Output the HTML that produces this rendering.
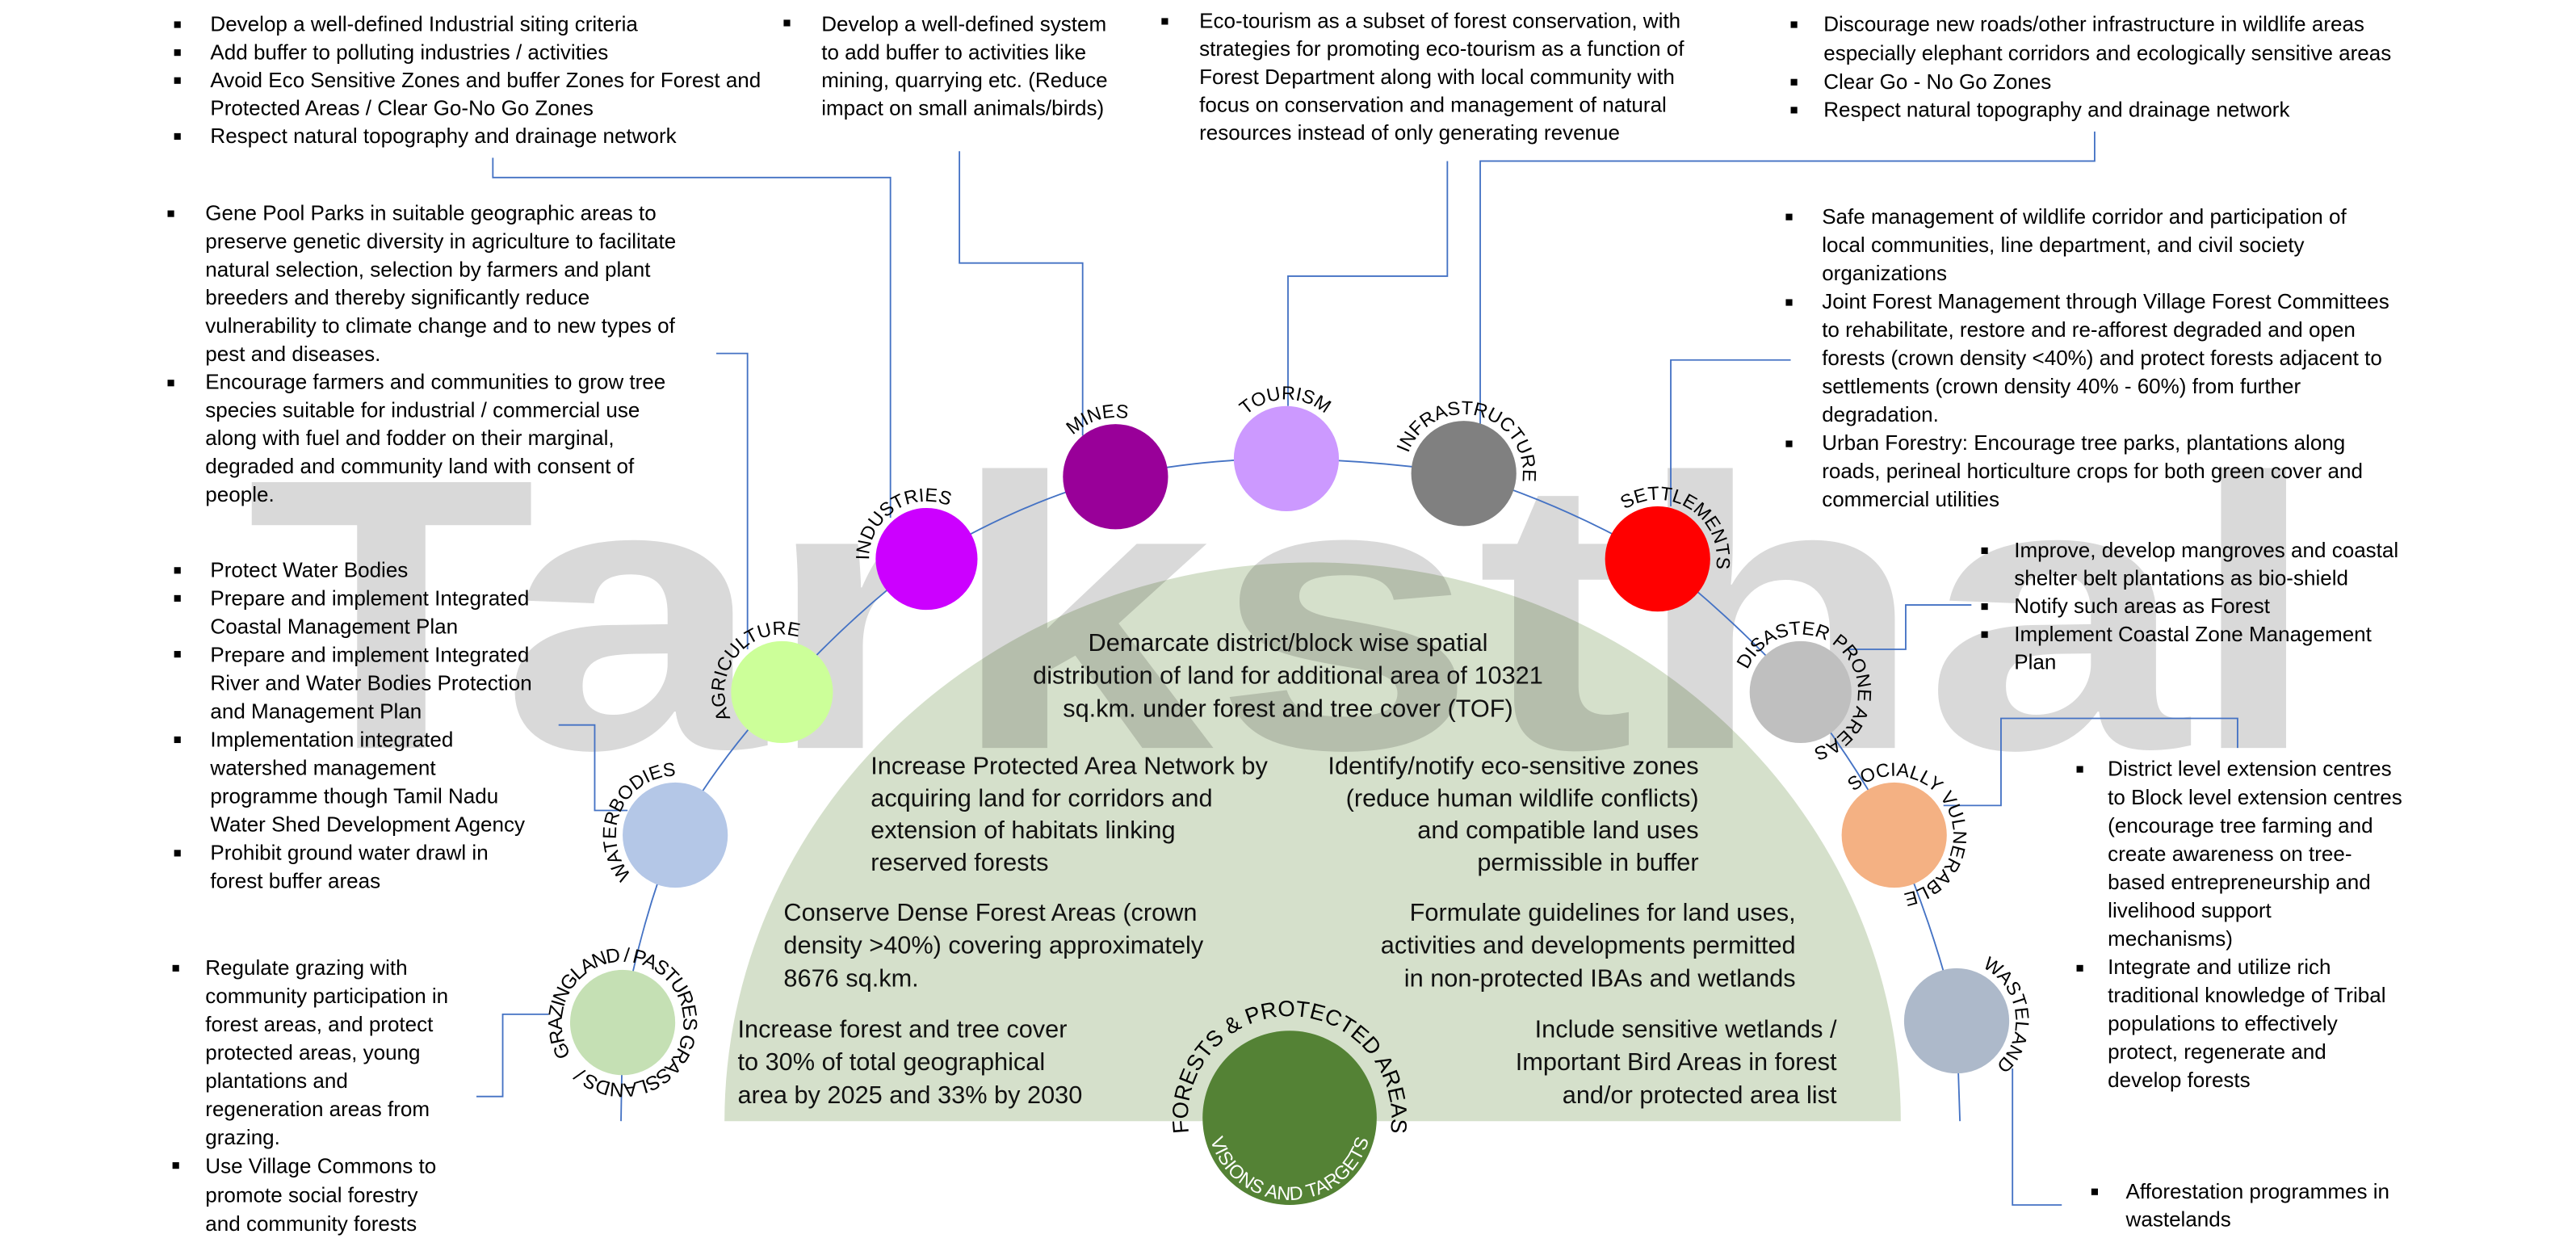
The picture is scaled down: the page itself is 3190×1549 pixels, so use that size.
<!DOCTYPE html>
<html><head><meta charset="utf-8"><style>
html,body{margin:0;padding:0;background:#fff;}
svg{display:block;}
text{font-family:"Liberation Sans",sans-serif;}
.b{font-size:12.8px;fill:#000;}
.c{font-size:15.1px;fill:#111;}
.l{font-size:11.5px;fill:#000;}
</style></head><body>
<svg width="3190" height="1549" viewBox="0 0 1568 761" preserveAspectRatio="none" xmlns="http://www.w3.org/2000/svg">
<defs>
<path id="ag" d="M476,456 A35,35 0 1 1 476,386 A35,35 0 1 1 476,456"/>
<path id="in" d="M564,375 A35,35 0 1 1 564,305 A35,35 0 1 1 564,375"/>
<path id="mi" d="M679,326 A36,36 0 1 1 679,254 A36,36 0 1 1 679,326"/>
<path id="to" d="M783,315 A36,36 0 1 1 783,243 A36,36 0 1 1 783,315"/>
<path id="inf" d="M891,324 A36,36 0 1 1 891,252 A36,36 0 1 1 891,324"/>
<path id="se" d="M1009,376 A36,36 0 1 1 1009,304 A36,36 0 1 1 1009,376"/>
<path id="di" d="M1096,456 A35,35 0 1 1 1096,386 A35,35 0 1 1 1096,456"/>
<path id="so" d="M1153,544 A36,36 0 1 1 1153,472 A36,36 0 1 1 1153,544"/>
<path id="wa" d="M1191,657 A36,36 0 1 1 1191,585 A36,36 0 1 1 1191,657"/>
<path id="wb" d="M411,544 A36,36 0 1 1 411,472 A36,36 0 1 1 411,544"/>
<path id="gr" d="M379,659 A37,37 0 1 1 379,585 A37,37 0 1 1 379,659"/>
<path id="fo" d="M726.7,701.2 A62,62 0 1 1 843.3,701.2"/>
<path id="vi" d="M735,680 A50,50 0 0 0 835,680"/>
</defs>

<path d="M441,682 A358,340 0 0 1 1157,682 Z" fill="#d5e0cb"/>
<text x="150" y="455" font-size="235" font-weight="bold" fill="#000" fill-opacity="0.15" textLength="1262" lengthAdjust="spacingAndGlyphs">Tarksthal</text>

<g fill="none" stroke="#4472c4" stroke-width="0.9">
<path d="M378,682 L379,622 Q390,560 411,508 Q440,458 476,421 Q516,376 564,340 Q620,306 679,290 Q730,279 783,279 Q838,280 891,288 Q953,307 1009,340 Q1056,377 1096,421 Q1128,462 1153,508 Q1177,563 1191,621 L1193,682"/>
<polyline points="300,96 300,108 542,108 542,315"/>
<polyline points="584,92 584,160 659,160 659,265"/>
<polyline points="881,98 881,168 784,168 784,247"/>
<polyline points="1275,80 1275,98 901,98 901,258"/>
<polyline points="1090,219 1017,219 1017,308"/>
<polyline points="436,215 455,215 455,395"/>
<polyline points="1200,368 1160,368 1160,395 1125,395"/>
<polyline points="1362,455 1362,437 1218,437 1218,490 1183,490"/>
<polyline points="340,441 362,441 362,493 382,493"/>
<polyline points="290,667 306,667 306,617 334,617"/>
<polyline points="1255,733 1225,733 1225,650"/>
</g>

<circle cx="476" cy="421" r="31" fill="#ccff99"/>
<circle cx="564" cy="340" r="31" fill="#cc00ff"/>
<circle cx="679" cy="290" r="32" fill="#990099"/>
<circle cx="783" cy="279" r="32" fill="#cc99ff"/>
<circle cx="891" cy="288" r="32" fill="#808080"/>
<circle cx="1009" cy="340" r="32" fill="#ff0000"/>
<circle cx="1096" cy="421" r="31" fill="#bfbfbf"/>
<circle cx="1153" cy="508" r="32" fill="#f4b183"/>
<circle cx="1191" cy="621" r="32" fill="#adb9ca"/>
<circle cx="411" cy="508" r="32" fill="#b4c7e7"/>
<circle cx="379" cy="622" r="32" fill="#c5e0b4"/>
<circle cx="785" cy="680" r="53" fill="#548235"/>

<text class="l" transform="rotate(-50 476 421)"><textPath href="#ag" startOffset="50%" text-anchor="middle">AGRICULTURE</textPath></text>
<text class="l" transform="rotate(-34 564 340)"><textPath href="#in" startOffset="50%" text-anchor="middle">INDUSTRIES</textPath></text>
<text class="l" transform="rotate(-17 679 290)"><textPath href="#mi" startOffset="50%" text-anchor="middle">MINES</textPath></text>
<text class="l" transform="rotate(-1 783 279)"><textPath href="#to" startOffset="50%" text-anchor="middle">TOURISM</textPath></text>
<text class="l" transform="rotate(14 891 288)"><textPath href="#inf" startOffset="50%" text-anchor="middle">INFRASTRUCTURE</textPath></text>
<text class="l" transform="rotate(33 1009 340)"><textPath href="#se" startOffset="50%" text-anchor="middle">SETTLEMENTS</textPath></text>
<text class="l" transform="rotate(50 1096 421)"><textPath href="#di" startOffset="50%" text-anchor="middle">DISASTER PRONE AREAS</textPath></text>
<text class="l" transform="rotate(64 1153 508)"><textPath href="#so" startOffset="50%" text-anchor="middle">SOCIALLY VULNERABLE</textPath></text>
<text class="l" transform="rotate(82 1191 621)"><textPath href="#wa" startOffset="50%" text-anchor="middle">WASTELAND</textPath></text>
<text class="l" transform="rotate(-66 411 508)"><textPath href="#wb" startOffset="50%" text-anchor="middle">WATERBODIES</textPath></text>
<text class="l" style="font-size:12px" transform="rotate(58 379 622)"><textPath href="#gr" startOffset="0" textLength="222">GRAZINGLAND / PASTURES GRASSLANDS /</textPath></text>
<text style="font-size:13.5px" fill="#000"><textPath href="#fo" startOffset="50%" text-anchor="middle">FORESTS &amp; PROTECTED AREAS</textPath></text>
<text style="font-size:11.5px" fill="#fff"><textPath href="#vi" startOffset="50%" text-anchor="middle">VISIONS AND TARGETS</textPath></text>

<g class="c">
<text text-anchor="middle" x="784" y="396">Demarcate district/block wise spatial<tspan x="784" dy="20">distribution of land for additional area of 10321</tspan><tspan x="784" dy="20">sq.km. under forest and tree cover (TOF)</tspan></text>
<text x="530" y="471">Increase Protected Area Network by<tspan x="530" dy="19.5">acquiring land for corridors and</tspan><tspan x="530" dy="19.5">extension of habitats linking</tspan><tspan x="530" dy="19.5">reserved forests</tspan></text>
<text text-anchor="end" x="1034" y="471">Identify/notify eco-sensitive zones<tspan x="1034" dy="19.5">(reduce human wildlife conflicts)</tspan><tspan x="1034" dy="19.5">and compatible land uses</tspan><tspan x="1034" dy="19.5">permissible in buffer</tspan></text>
<text x="477" y="560">Conserve Dense Forest Areas (crown<tspan x="477" dy="20">density &gt;40%) covering approximately</tspan><tspan x="477" dy="20">8676 sq.km.</tspan></text>
<text text-anchor="end" x="1093" y="560">Formulate guidelines for land uses,<tspan x="1093" dy="20">activities and developments permitted</tspan><tspan x="1093" dy="20">in non-protected IBAs and wetlands</tspan></text>
<text x="449" y="631">Increase forest and tree cover<tspan x="449" dy="20">to 30% of total geographical</tspan><tspan x="449" dy="20">area by 2025 and 33% by 2030</tspan></text>
<text text-anchor="end" x="1118" y="631">Include sensitive wetlands /<tspan x="1118" dy="20">Important Bird Areas in forest</tspan><tspan x="1118" dy="20">and/or protected area list</tspan></text>
</g>

<g fill="#000">
<rect x="106" y="13" width="4" height="4"/><rect x="106" y="30" width="4" height="4"/><rect x="106" y="47" width="4" height="4"/><rect x="106" y="81" width="4" height="4"/>
<rect x="477" y="12" width="4" height="4"/>
<rect x="707" y="11" width="4" height="4"/>
<rect x="1090" y="13" width="4" height="4"/><rect x="1090" y="48" width="4" height="4"/><rect x="1090" y="65" width="4" height="4"/>
<rect x="102" y="128" width="4" height="4"/><rect x="102" y="231" width="4" height="4"/>
<rect x="1087" y="130" width="4" height="4"/><rect x="1087" y="182" width="4" height="4"/><rect x="1087" y="268" width="4" height="4"/>
<rect x="106" y="345" width="4" height="4"/><rect x="106" y="362" width="4" height="4"/><rect x="106" y="396" width="4" height="4"/><rect x="106" y="448" width="4" height="4"/><rect x="106" y="517" width="4" height="4"/>
<rect x="1206" y="333" width="4" height="4"/><rect x="1206" y="367" width="4" height="4"/><rect x="1206" y="384" width="4" height="4"/>
<rect x="1264" y="466" width="4" height="4"/><rect x="1264" y="587" width="4" height="4"/>
<rect x="105" y="587" width="4" height="4"/><rect x="105" y="707" width="4" height="4"/>
<rect x="1273" y="723" width="4" height="4"/>
</g>

<g class="b">
<text x="128" y="19">Develop a well-defined Industrial siting criteria<tspan x="128" dy="17">Add buffer to polluting industries / activities</tspan><tspan x="128" dy="17">Avoid Eco Sensitive Zones and buffer Zones for Forest and</tspan><tspan x="128" dy="17">Protected Areas / Clear Go-No Go Zones</tspan><tspan x="128" dy="17">Respect natural topography and drainage network</tspan></text>
<text x="500" y="19">Develop a well-defined system<tspan x="500" dy="17">to add buffer to activities like</tspan><tspan x="500" dy="17">mining, quarrying etc. (Reduce</tspan><tspan x="500" dy="17">impact on small animals/birds)</tspan></text>
<text x="730" y="17">Eco-tourism as a subset of forest conservation, with<tspan x="730" dy="17">strategies for promoting eco-tourism as a function of</tspan><tspan x="730" dy="17">Forest Department along with local community with</tspan><tspan x="730" dy="17">focus on conservation and management of natural</tspan><tspan x="730" dy="17">resources instead of only generating revenue</tspan></text>
<text x="1110" y="19">Discourage new roads/other infrastructure in wildlife areas<tspan x="1110" dy="17.5">especially elephant corridors and ecologically sensitive areas</tspan><tspan x="1110" dy="17.5">Clear Go - No Go Zones</tspan><tspan x="1110" dy="17">Respect natural topography and drainage network</tspan></text>
<text x="125" y="134">Gene Pool Parks in suitable geographic areas to<tspan x="125" dy="17.1">preserve genetic diversity in agriculture to facilitate</tspan><tspan x="125" dy="17.1">natural selection, selection by farmers and plant</tspan><tspan x="125" dy="17.1">breeders and thereby significantly reduce</tspan><tspan x="125" dy="17.1">vulnerability to climate change and to new types of</tspan><tspan x="125" dy="17.1">pest and diseases.</tspan><tspan x="125" dy="17.1">Encourage farmers and communities to grow tree</tspan><tspan x="125" dy="17.1">species suitable for industrial / commercial use</tspan><tspan x="125" dy="17.1">along with fuel and fodder on their marginal,</tspan><tspan x="125" dy="17.1">degraded and community land with consent of</tspan><tspan x="125" dy="17.1">people.</tspan></text>
<text x="1109" y="136">Safe management of wildlife corridor and participation of<tspan x="1109" dy="17.2">local communities, line department, and civil society</tspan><tspan x="1109" dy="17.2">organizations</tspan><tspan x="1109" dy="17.2">Joint Forest Management through Village Forest Committees</tspan><tspan x="1109" dy="17.2">to rehabilitate, restore and re-afforest degraded and open</tspan><tspan x="1109" dy="17.2">forests (crown density &lt;40%) and protect forests adjacent to</tspan><tspan x="1109" dy="17.2">settlements (crown density 40% - 60%) from further</tspan><tspan x="1109" dy="17.2">degradation.</tspan><tspan x="1109" dy="17.2">Urban Forestry: Encourage tree parks, plantations along</tspan><tspan x="1109" dy="17.2">roads, perineal horticulture crops for both green cover and</tspan><tspan x="1109" dy="17.2">commercial utilities</tspan></text>
<text x="128" y="351">Protect Water Bodies<tspan x="128" dy="17.2">Prepare and implement Integrated</tspan><tspan x="128" dy="17.2">Coastal Management Plan</tspan><tspan x="128" dy="17.2">Prepare and implement Integrated</tspan><tspan x="128" dy="17.2">River and Water Bodies Protection</tspan><tspan x="128" dy="17.2">and Management Plan</tspan><tspan x="128" dy="17.2">Implementation integrated</tspan><tspan x="128" dy="17.2">watershed management</tspan><tspan x="128" dy="17.2">programme though Tamil Nadu</tspan><tspan x="128" dy="17.2">Water Shed Development Agency</tspan><tspan x="128" dy="17.2">Prohibit ground water drawl in</tspan><tspan x="128" dy="17.2">forest buffer areas</tspan></text>
<text x="1226" y="339">Improve, develop mangroves and coastal<tspan x="1226" dy="17">shelter belt plantations as bio-shield</tspan><tspan x="1226" dy="17">Notify such areas as Forest</tspan><tspan x="1226" dy="17">Implement Coastal Zone Management</tspan><tspan x="1226" dy="17">Plan</tspan></text>
<text x="1283" y="472">District level extension centres<tspan x="1283" dy="17.2">to Block level extension centres</tspan><tspan x="1283" dy="17.2">(encourage tree farming and</tspan><tspan x="1283" dy="17.2">create awareness on tree-</tspan><tspan x="1283" dy="17.2">based entrepreneurship and</tspan><tspan x="1283" dy="17.2">livelihood support</tspan><tspan x="1283" dy="17.2">mechanisms)</tspan><tspan x="1283" dy="17.2">Integrate and utilize rich</tspan><tspan x="1283" dy="17.2">traditional knowledge of Tribal</tspan><tspan x="1283" dy="17.2">populations to effectively</tspan><tspan x="1283" dy="17.2">protect, regenerate and</tspan><tspan x="1283" dy="17.2">develop forests</tspan></text>
<text x="125" y="593">Regulate grazing with<tspan x="125" dy="17.2">community participation in</tspan><tspan x="125" dy="17.2">forest areas, and protect</tspan><tspan x="125" dy="17.2">protected areas, young</tspan><tspan x="125" dy="17.2">plantations and</tspan><tspan x="125" dy="17.2">regeneration areas from</tspan><tspan x="125" dy="17.2">grazing.</tspan><tspan x="125" dy="17.5">Use Village Commons to</tspan><tspan x="125" dy="17.5">promote social forestry</tspan><tspan x="125" dy="17.5">and community forests</tspan></text>
<text x="1294" y="729">Afforestation programmes in<tspan x="1294" dy="17">wastelands</tspan></text>
</g>
</svg>
</body></html>
